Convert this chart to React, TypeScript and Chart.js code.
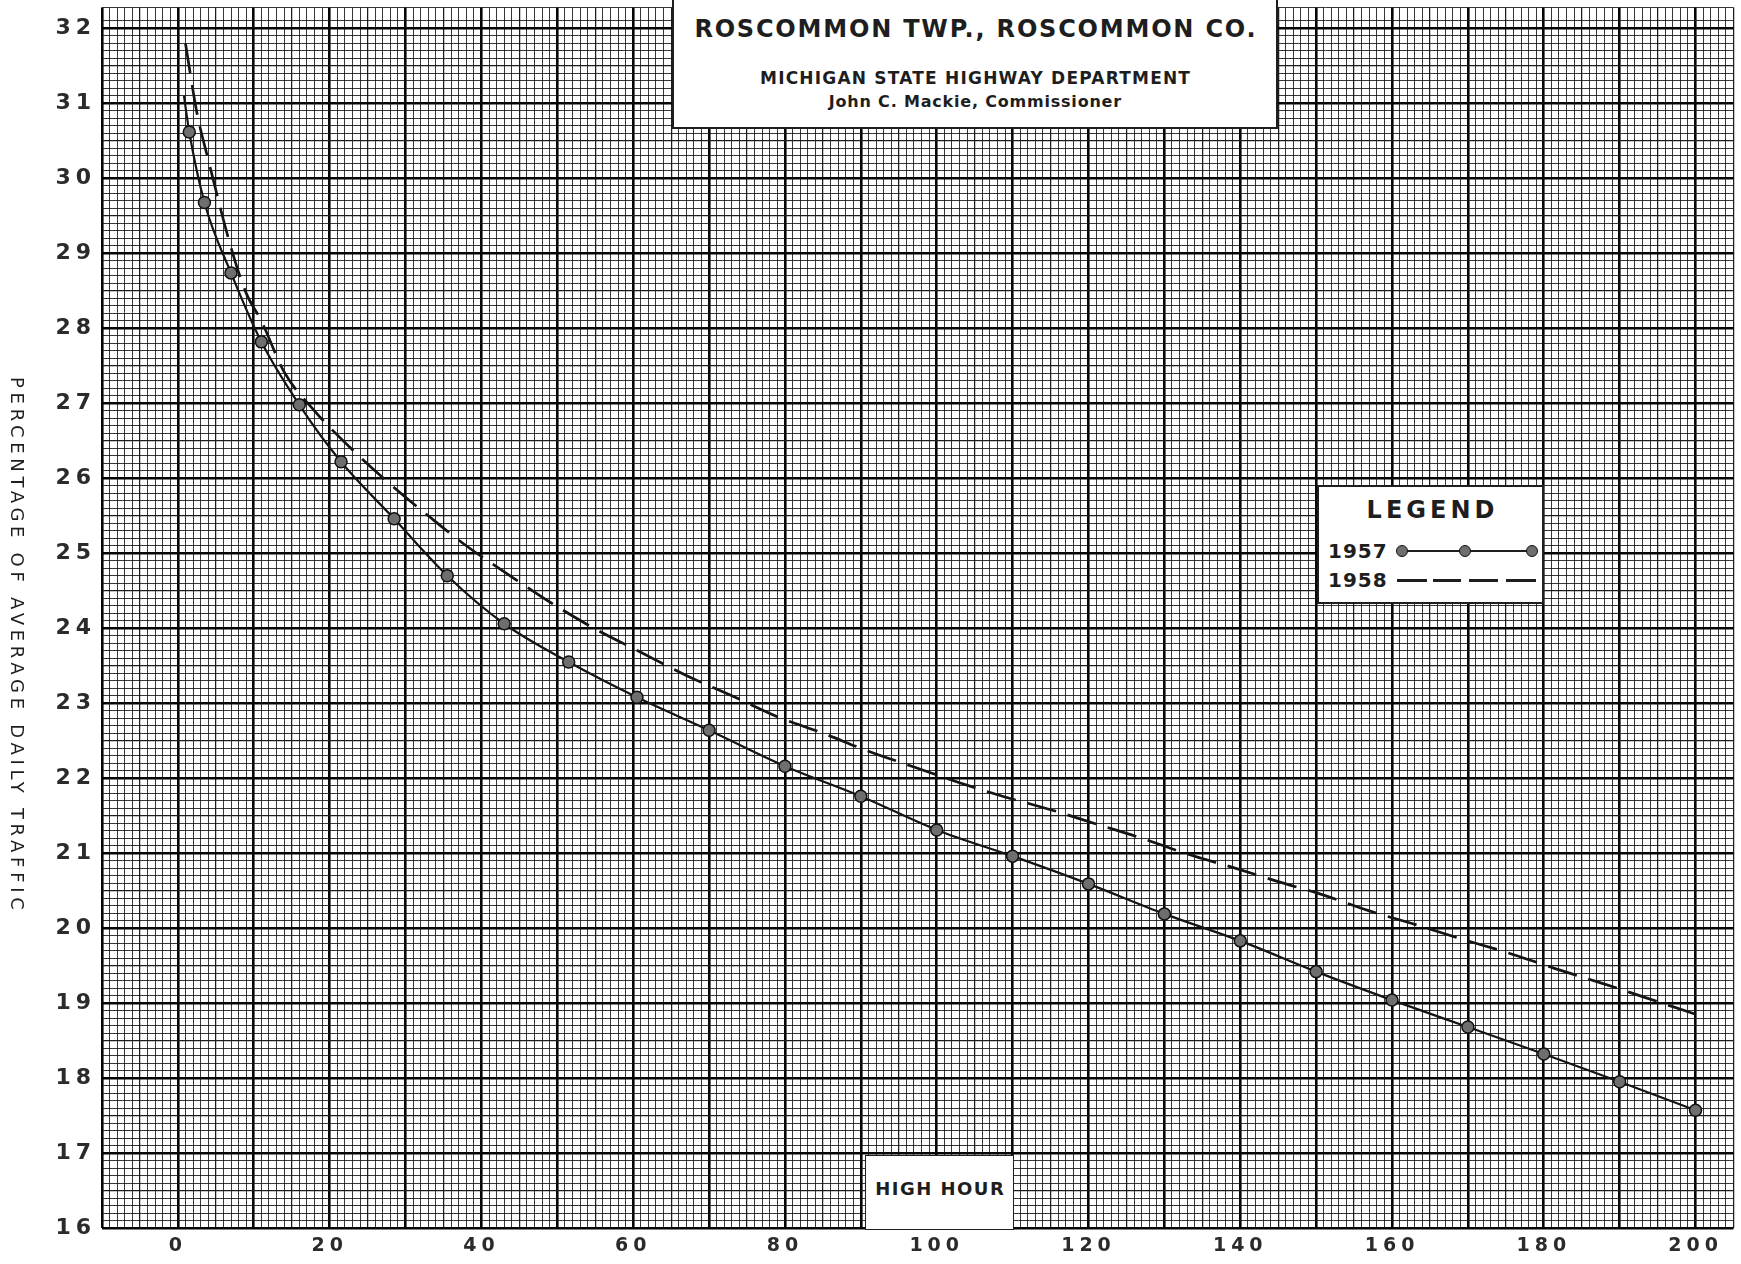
import React, { useEffect, useRef } from 'react';
import { Chart, registerables } from 'chart.js';

Chart.register(...registerables);

// ---- axis ranges & tick labels ----
const X_MIN = -10;
const X_MAX = 205;
const Y_MIN = 16;
const Y_MAX = 32.28;
const xLabelValues = [0, 20, 40, 60, 80, 100, 120, 140, 160, 180, 200];
const yLabelValues = [16, 17, 18, 19, 20, 21, 22, 23, 24, 25, 26, 27, 28, 29, 30, 31, 32];

// ---- 1957 (solid line with dots); first value is the unmarked start of the line ----
const hours1957 = [0.8, 1.5, 3.5, 7, 11, 16, 21.5, 28.5, 35.5, 43, 51.5, 60.5, 70, 80, 90, 100, 110, 120, 130, 140, 150, 160, 170, 180, 190, 200];
const pct1957 = [31.1, 30.62, 29.68, 28.74, 27.82, 26.98, 26.22, 25.46, 24.7, 24.06, 23.55, 23.08, 22.64, 22.16, 21.76, 21.31, 20.96, 20.59, 20.19, 19.83, 19.42, 19.04, 18.68, 18.32, 17.95, 17.57];

// ---- 1958 (dashed line) ----
const hours1958 = [1, 2.5, 4, 7, 9, 11, 14, 18, 23, 28, 33, 38, 43.5, 49, 55, 61, 67, 73, 79, 85, 91, 97, 103, 109, 115, 121, 127, 133, 139, 145, 151, 157, 163, 169, 175, 181.5, 187.5, 193.5, 200];
const pct1958 = [31.8, 30.88, 30.25, 29.08, 28.47, 28.1, 27.42, 26.9, 26.38, 25.92, 25.5, 25.1, 24.72, 24.35, 23.99, 23.68, 23.37, 23.1, 22.82, 22.6, 22.36, 22.15, 21.94, 21.75, 21.58, 21.39, 21.2, 20.99, 20.81, 20.62, 20.44, 20.23, 20.05, 19.86, 19.68, 19.46, 19.27, 19.07, 18.85];

const FONT = "'DejaVu Sans', 'Liberation Sans', sans-serif";

function isMult(v: number, step: number) {
  const r = v / step;
  return Math.abs(r - Math.round(r)) < 1e-6;
}

const letterSpacingPlugin = {
  id: 'tickLetterSpacing',
  beforeDraw(chart: any) {
    try { chart.ctx.letterSpacing = '5px'; } catch (e) { /* ignore */ }
  },
  afterDraw(chart: any) {
    try { chart.ctx.letterSpacing = '0px'; } catch (e) { /* ignore */ }
  },
};

function gridColor(heavy: boolean, medium: boolean) {
  if (heavy) return '#050505';
  if (medium) return '#1c1c1c';
  return 'rgba(20,20,20,0.85)';
}
function gridWidth(heavy: boolean, medium: boolean) {
  if (heavy) return 2.6;
  if (medium) return 1.25;
  return 1;
}

export default function App() {
  const ref = useRef<HTMLCanvasElement>(null);

  useEffect(() => {
    const canvas = ref.current;
    if (!canvas) return;
    const chart = new Chart(canvas, {
      type: 'line',
      data: {
        datasets: [
          {
            label: '1958',
            data: hours1958.map((x, i) => ({ x, y: pct1958[i] })),
            borderColor: '#151515',
            borderWidth: 2.7,
            borderDash: [30, 12],
            pointRadius: 0,
            cubicInterpolationMode: 'monotone',
            fill: false,
            order: 2,
          },
          {
            label: '1957',
            data: hours1957.map((x, i) => ({ x, y: pct1957[i] })),
            borderColor: '#151515',
            borderWidth: 2.2,
            pointRadius: (c: any) => (c.dataIndex === 0 ? 0 : 6),
            pointBackgroundColor: '#6e6e6e',
            pointBorderColor: '#111',
            pointBorderWidth: 1.5,
            cubicInterpolationMode: 'monotone',
            fill: false,
            order: 1,
          },
        ],
      } as any,
      options: {
        responsive: false,
        animation: false,
        devicePixelRatio: 1,
        layout: { padding: { left: 0, right: 3, top: 0, bottom: 0 } },
        plugins: {
          legend: { display: false },
          tooltip: { enabled: false },
          title: { display: false },
        },
        scales: {
          x: {
            type: 'linear',
            min: X_MIN,
            max: X_MAX,
            afterFit: (s: any) => {
              s.height = 36;
              s.paddingLeft = 0;
              s.paddingRight = 0;
            },
            border: { display: false },
            ticks: {
              stepSize: 1,
              autoSkip: false,
              maxRotation: 0,
              minRotation: 0,
              padding: 7,
              color: '#2b2b2b',
              font: { family: FONT, size: 19, weight: 'bold' },
              callback: (v: any) => {
                const n = Number(v);
                const r = Math.round(n);
                return isMult(n, 1) && xLabelValues.includes(r) ? String(r) : '';
              },
            },
            grid: {
              drawTicks: false,
              color: (c: any) => {
                const v = c.tick ? c.tick.value : 0;
                return gridColor(isMult(v, 10), isMult(v, 5));
              },
              lineWidth: (c: any) => {
                const v = c.tick ? c.tick.value : 0;
                return gridWidth(isMult(v, 10), isMult(v, 5));
              },
            },
          },
          y: {
            type: 'linear',
            min: Y_MIN,
            max: Y_MAX,
            afterFit: (s: any) => {
              s.width = 102;
              s.paddingTop = 0;
              s.paddingBottom = 0;
            },
            border: { display: false },
            ticks: {
              stepSize: 0.1,
              autoSkip: false,
              padding: 6,
              color: '#2b2b2b',
              font: { family: FONT, size: 22, weight: 'bold' },
              callback: (v: any) => {
                const n = Number(v);
                const r = Math.round(n);
                return isMult(n, 1) && yLabelValues.includes(r) ? String(r) : '';
              },
            },
            grid: {
              drawTicks: false,
              color: (c: any) => {
                const v = c.tick ? c.tick.value : 0;
                return gridColor(isMult(v, 1), isMult(v, 0.5));
              },
              lineWidth: (c: any) => {
                const v = c.tick ? c.tick.value : 0;
                return gridWidth(isMult(v, 1), isMult(v, 0.5));
              },
            },
          },
        },
      } as any,
      plugins: [letterSpacingPlugin],
    });
    return () => chart.destroy();
  }, []);

  const box: React.CSSProperties = {
    position: 'absolute',
    background: '#fff',
    border: '2px solid #1e1e1e',
    boxSizing: 'border-box',
    fontFamily: FONT,
    color: '#1e1e1e',
  };
  const centered = (top: number, size: number, spacing: number, weight: any = 'bold'): React.CSSProperties => ({
    position: 'absolute',
    left: 0,
    right: 0,
    top,
    textAlign: 'center',
    fontSize: size,
    lineHeight: `${size}px`,
    letterSpacing: spacing,
    fontWeight: weight,
    whiteSpace: 'nowrap',
    paddingLeft: spacing,
  });
  const dot = (left: number): React.CSSProperties => ({
    position: 'absolute',
    left: left - 6,
    top: 64 - 6,
    width: 12,
    height: 12,
    borderRadius: '50%',
    background: '#6e6e6e',
    border: '1.5px solid #111',
    boxSizing: 'border-box',
  });
  const seg = (x1: number, x2: number, y: number, t: number): React.CSSProperties => ({
    position: 'absolute',
    left: x1,
    width: x2 - x1,
    top: y - t / 2,
    height: t,
    background: '#1e1e1e',
  });

  return (
    <div style={{ position: 'fixed', left: 0, top: 0, width: 1741, height: 1264, background: '#fff', overflow: 'hidden' }}>
      <canvas ref={ref} width={1741} height={1264} style={{ position: 'absolute', left: 0, top: 0, width: 1741, height: 1264 }} />

      {/* Title box */}
      <div style={{ ...box, left: 672, top: -4, width: 606, height: 133 }}>
        <div style={centered(19, 24, 1.8)}>ROSCOMMON TWP., ROSCOMMON CO.</div>
        <div style={centered(72, 17, 1.2)}>MICHIGAN STATE HIGHWAY DEPARTMENT</div>
        <div style={centered(96, 16, 0.8)}>John C. Mackie, Commissioner</div>
      </div>

      {/* Legend box */}
      <div style={{ ...box, left: 1317, top: 485, width: 227, height: 119 }}>
        <div style={centered(11, 24, 4)}>LEGEND</div>
        <div style={{ position: 'absolute', left: 9, top: 54, fontSize: 20, lineHeight: '20px', fontWeight: 'bold', letterSpacing: 1 }}>1957</div>
        <div style={seg(83, 213, 64, 2)} />
        <div style={dot(83)} />
        <div style={dot(146)} />
        <div style={dot(213)} />
        <div style={{ position: 'absolute', left: 9, top: 83, fontSize: 20, lineHeight: '20px', fontWeight: 'bold', letterSpacing: 1 }}>1958</div>
        <div style={seg(78, 108, 93, 3)} />
        <div style={seg(114, 142, 93, 3)} />
        <div style={seg(150, 179, 93, 3)} />
        <div style={seg(187, 217, 93, 3)} />
      </div>

      {/* x-axis title box */}
      <div style={{ ...box, left: 865, top: 1155, width: 149, height: 75, border: '1.5px solid #1e1e1e' }}>
        <div style={centered(24, 18, 1.5)}>HIGH HOUR</div>
      </div>

      {/* y-axis title */}
      <div
        style={{
          position: 'absolute',
          left: 6,
          top: 377,
          writingMode: 'vertical-rl',
          fontFamily: FONT,
          fontSize: 18,
          lineHeight: '22px',
          letterSpacing: 4.7,
          color: '#1e1e1e',
          whiteSpace: 'nowrap',
        }}
      >
        PERCENTAGE OF AVERAGE DAILY TRAFFIC
      </div>
    </div>
  );
}
